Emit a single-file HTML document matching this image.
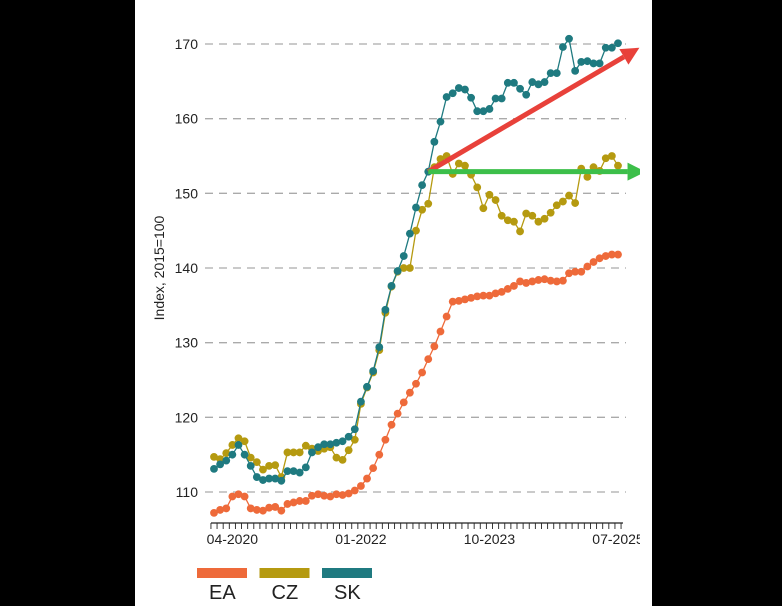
<!DOCTYPE html>
<html><head><meta charset="utf-8"><style>
body{margin:0;background:#000;width:782px;height:606px;overflow:hidden;position:relative;font-family:"Liberation Sans",sans-serif}
#panel{position:absolute;left:135px;top:0;width:517px;height:606px;background:#fff}
svg{position:absolute;left:0;top:0}
</style></head><body>
<div id="panel"></div>
<svg id="chart" width="640" height="606" viewBox="0 0 640 606"></svg>
<script>
const yTicks=[110,120,130,140,150,160,170];
const xTickLabels=["04-2020","01-2022","10-2023","07-2025"];
const xTickIdx=[3,24,45,66];
const seriesNames=["EA","CZ","SK"];
const EA=[107.2,107.6,107.8,109.4,109.7,109.4,107.8,107.6,107.5,107.9,108.0,107.5,108.4,108.6,108.8,108.8,109.5,109.7,109.5,109.4,109.7,109.6,109.8,110.2,110.8,111.8,113.2,115.0,117.0,119.0,120.5,122.0,123.3,124.5,126.0,127.8,129.5,131.5,133.5,135.5,135.6,135.8,136.0,136.2,136.3,136.3,136.6,136.8,137.2,137.6,138.2,138.0,138.2,138.4,138.5,138.3,138.2,138.3,139.3,139.5,139.5,140.2,140.8,141.3,141.6,141.8,141.8];
const CZ=[114.7,114.4,115.2,116.3,117.2,116.8,114.6,114.0,113.0,113.5,113.6,112.0,115.3,115.3,115.3,116.2,115.8,115.5,115.8,116.0,114.6,114.3,115.6,117.0,121.8,124.0,126.0,129.0,134.0,137.5,139.5,140.0,140.0,145.0,147.8,148.6,153.5,154.6,155.0,152.6,154.0,153.7,152.5,150.8,148.0,149.8,149.1,147.0,146.4,146.2,144.9,147.3,147.0,146.2,146.6,147.4,148.4,148.9,149.7,148.7,153.3,152.2,153.5,153.0,154.7,155.0,153.7];
const SK=[113.1,113.7,114.2,115.0,116.3,115.0,113.5,112.0,111.6,111.8,111.8,111.5,112.8,112.8,112.6,113.3,115.3,116.0,116.4,116.4,116.6,116.8,117.4,118.4,122.1,124.1,126.2,129.4,134.4,137.6,139.6,141.6,144.6,148.1,151.1,152.9,156.9,159.6,162.9,163.4,164.1,163.9,162.8,161.0,161.0,161.3,162.7,162.7,164.8,164.8,164.0,163.2,164.9,164.6,164.9,166.1,166.1,169.6,170.7,166.4,167.6,167.7,167.4,167.4,169.5,169.5,170.1];
const trendStart=[35,152.9], trendEnd=[69.5,169.5], flatEnd=[70.5,152.9];
const colors=["#ee6a3a","#b59a10","#1f7a80"];
const NS="http://www.w3.org/2000/svg";
const svg=document.getElementById('chart');
const x=i=>214+i*(618-214)/66;
const y=v=>492-(v-110)*(448/60);
function mk(t,a,p){const e=document.createElementNS(NS,t);for(const k in a)e.setAttribute(k,a[k]);(p||svg).appendChild(e);return e;}
yTicks.forEach(v=>{
 const g=mk('line',{x1:205,x2:626,y1:y(v),y2:y(v),stroke:'#aaa','stroke-width':1.3,'stroke-dasharray':'8,6'});
 
 
 const t=mk('text',{x:198,y:y(v)+5,'text-anchor':'end','font-size':14,fill:'#222'});t.textContent=v;
 
 
});
const ax=mk('line',{x1:211,x2:623,y1:523,y2:523,stroke:'#222','stroke-width':1.2});


for(let i=-0.5;i<=66.5;i+=1){const tk=mk('line',{x1:x(i),x2:x(i),y1:523,y2:529,stroke:'#222','stroke-width':0.9});
 
 }
xTickLabels.forEach((l,k)=>{const t=mk('text',{x:x(xTickIdx[k]),y:544,'text-anchor':'middle','font-size':14,fill:'#222'});t.textContent=l;
 
 });
const yt=mk('text',{x:0,y:0,transform:'translate(164,268) rotate(-90)','text-anchor':'middle','font-size':14,fill:'#222'});yt.textContent='Index, 2015=100';


[EA,CZ,SK].forEach((d,s)=>{
 const g=mk('g',{});
 
 
 mk('polyline',{points:d.map((v,i)=>x(i)+','+y(v)).join(' '),fill:'none',stroke:colors[s],'stroke-width':1.3},g);
 d.forEach((v,i)=>{const c=mk('circle',{cx:x(i),cy:y(v),r:3.9,fill:colors[s]},g);
  
  });
});
function arrow(a,b,col,name){
 const x1=x(a[0]),y1=y(a[1]),x2=x(b[0]),y2=y(b[1]);
 const ang=Math.atan2(y2-y1,x2-x1),L=18,W=9;
 const bx=x2-L*Math.cos(ang),by=y2-L*Math.sin(ang);
 const g=mk('g',{});
 
 
 mk('line',{x1:x1,y1:y1,x2:bx,y2:by,stroke:col,'stroke-width':5},g);
 const px=-Math.sin(ang)*W,py=Math.cos(ang)*W;
 mk('polygon',{points:`${x2},${y2} ${bx+px},${by+py} ${bx-px},${by-py}`,fill:col},g);
}
arrow(trendStart,trendEnd,'#e8413a','trend-arrow-red');
arrow(trendStart,flatEnd,'#3cbf4a','flat-arrow-green');
seriesNames.forEach((n,s)=>{
 const r=mk('rect',{x:197+s*62.5,y:568,width:50,height:10,fill:colors[s]});
 
 
 const t=mk('text',{x:209+s*62.5,y:599,'font-size':20,fill:'#222'});t.textContent=n;
 
 
});
</script>
</body></html>
